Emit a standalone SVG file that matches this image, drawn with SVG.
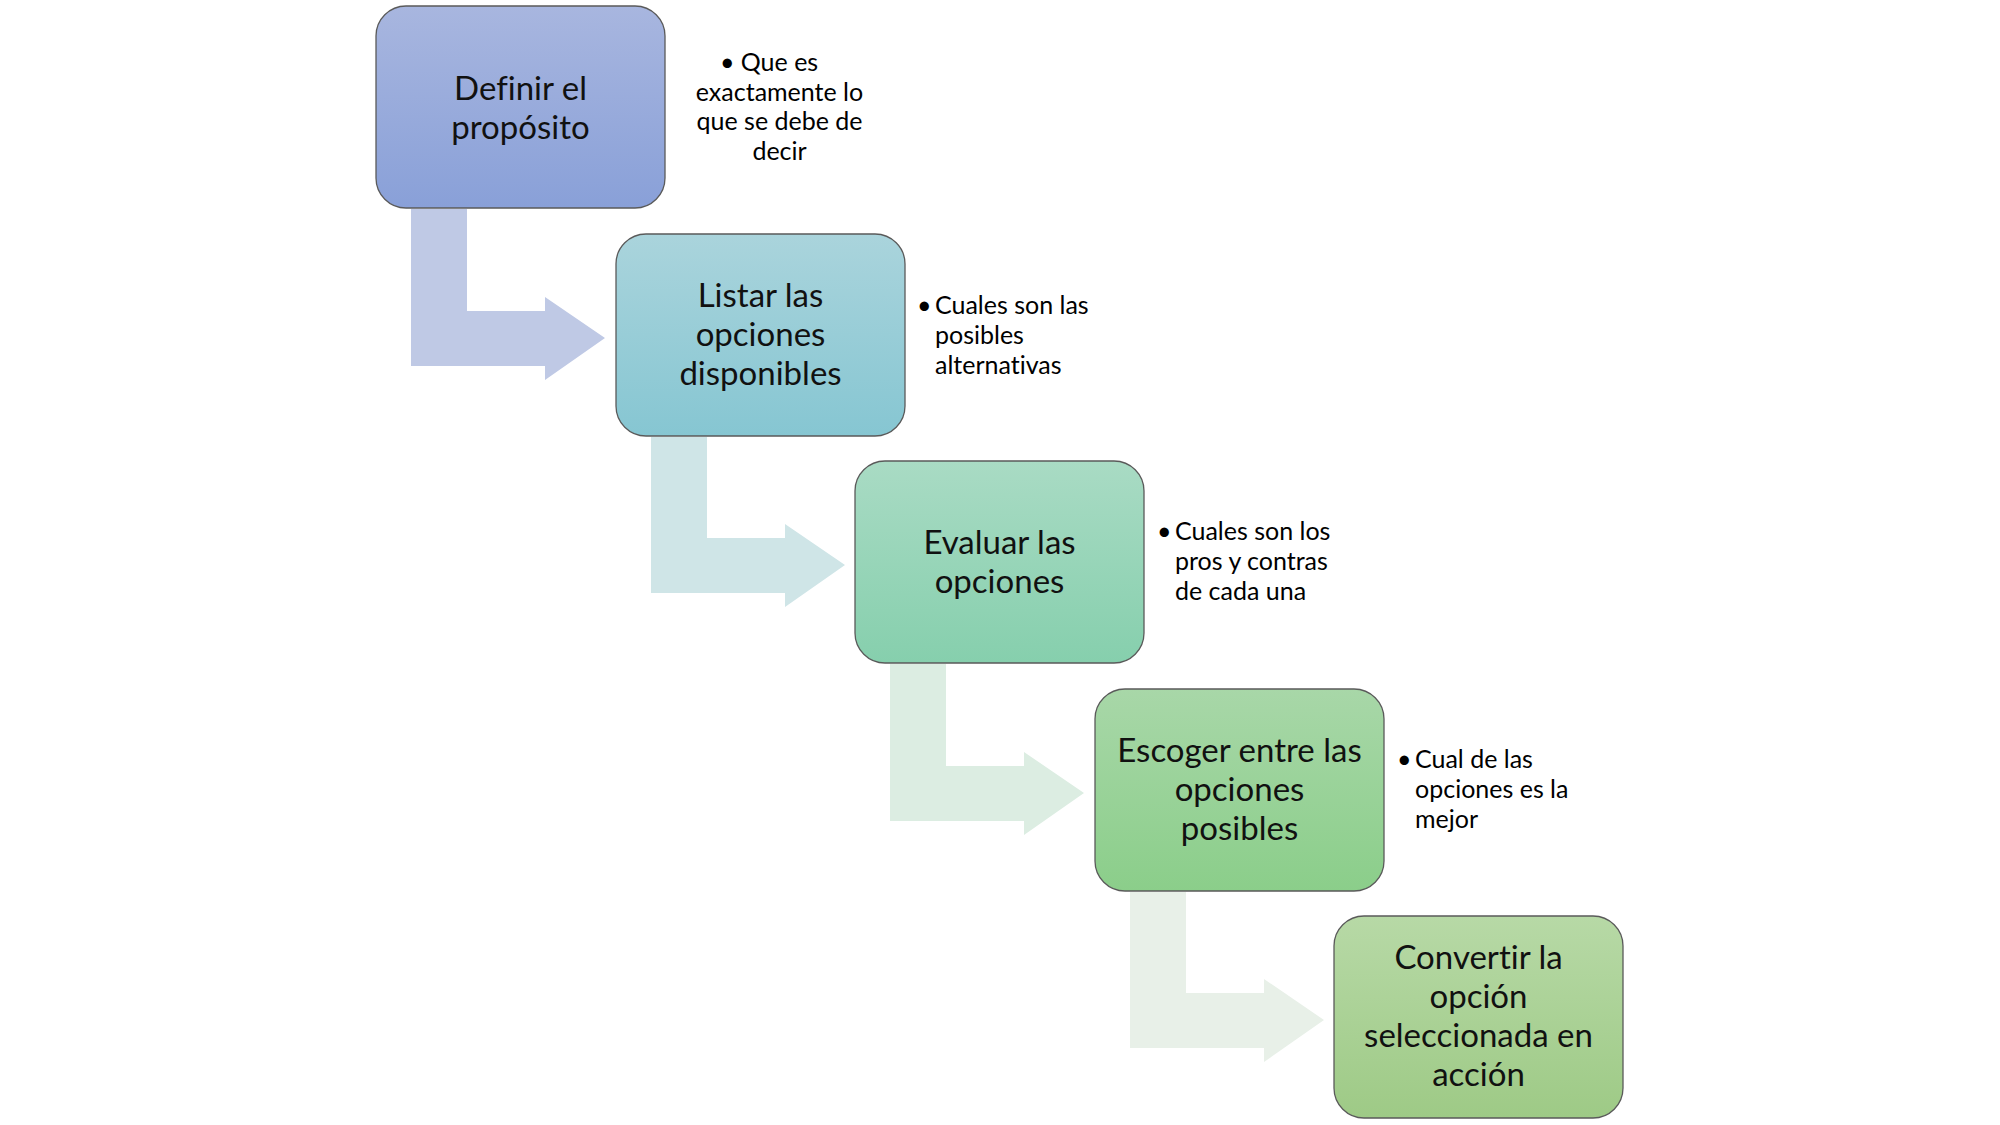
<svg xmlns="http://www.w3.org/2000/svg" width="2000" height="1125" viewBox="0 0 2000 1125">
<defs>
<linearGradient id="g1" x1="0" y1="0" x2="0" y2="1"><stop offset="0" stop-color="#A8B6DF"/><stop offset="1" stop-color="#89A0D8"/></linearGradient>
<linearGradient id="g2" x1="0" y1="0" x2="0" y2="1"><stop offset="0" stop-color="#AAD4DC"/><stop offset="1" stop-color="#86C6D2"/></linearGradient>
<linearGradient id="g3" x1="0" y1="0" x2="0" y2="1"><stop offset="0" stop-color="#A9DBC4"/><stop offset="1" stop-color="#86CFAD"/></linearGradient>
<linearGradient id="g4" x1="0" y1="0" x2="0" y2="1"><stop offset="0" stop-color="#A8D7A8"/><stop offset="1" stop-color="#8BCE8A"/></linearGradient>
<linearGradient id="g5" x1="0" y1="0" x2="0" y2="1"><stop offset="0" stop-color="#B7D9A6"/><stop offset="1" stop-color="#9ECA86"/></linearGradient>
</defs>
<style>
.box{stroke:#5A5A5A;stroke-width:1.3}
text{font-variant-ligatures:none;font-feature-settings:"liga" 0,"clig" 0}
.t{font-family:Lato,"Open Sans","Liberation Sans",sans-serif;font-size:33px;fill:#111;text-anchor:middle}
.s{font-family:Lato,"Open Sans","Liberation Sans",sans-serif;font-size:25px;fill:#000}
.c{text-anchor:middle}
</style>
<rect width="2000" height="1125" fill="#FFFFFF"/>
<g id="connectors">
<path d="M411 209 H467 V311 H545 V297 L605 338 L545 380 V366 H411 Z" fill="#BFC9E5"/>
<path d="M651 437 H707 V538 H785 V524 L845 565 L785 607 V593 H651 Z" fill="#CFE5E7"/>
<path d="M890 664 H946 V766 H1024 V752 L1084 793 L1024 835 V821 H890 Z" fill="#DCEDE2"/>
<path d="M1130 892 H1186 V993 H1264 V979 L1324 1020 L1264 1062 V1048 H1130 Z" fill="#E8F0E8"/>
</g>
<g id="node1">
<rect class="box" x="376" y="6" width="289" height="202" rx="30" fill="url(#g1)"/>
<text class="t" x="520.5" y="100">Definir el</text>
<text class="t" x="520.5" y="139">propósito</text>
</g>
<g id="note1">
<text class="s" x="720" y="71">•</text>
<text class="s c" x="779.5" y="71">Que es</text>
<text class="s c" x="779.5" y="101">exactamente lo</text>
<text class="s c" x="779.5" y="130">que se debe de</text>
<text class="s c" x="779.5" y="160">decir</text>
</g>
<g id="node2">
<rect class="box" x="616" y="234" width="289" height="202" rx="30" fill="url(#g2)"/>
<text class="t" x="760.5" y="307">Listar las</text>
<text class="t" x="760.5" y="346">opciones</text>
<text class="t" x="760.5" y="385">disponibles</text>
</g>
<g id="note2">
<text class="s" x="917" y="314">•</text>
<text class="s" x="935" y="314">Cuales son las</text>
<text class="s" x="935" y="344">posibles</text>
<text class="s" x="935" y="374">alternativas</text>
</g>
<g id="node3">
<rect class="box" x="855" y="461" width="289" height="202" rx="30" fill="url(#g3)"/>
<text class="t" x="999.5" y="554">Evaluar las</text>
<text class="t" x="999.5" y="593">opciones</text>
</g>
<g id="note3">
<text class="s" x="1157" y="540">•</text>
<text class="s" x="1175" y="540">Cuales son los</text>
<text class="s" x="1175" y="570">pros y contras</text>
<text class="s" x="1175" y="600">de cada una</text>
</g>
<g id="node4">
<rect class="box" x="1095" y="689" width="289" height="202" rx="30" fill="url(#g4)"/>
<text class="t" x="1239.5" y="762">Escoger entre las</text>
<text class="t" x="1239.5" y="801">opciones</text>
<text class="t" x="1239.5" y="840">posibles</text>
</g>
<g id="note4">
<text class="s" x="1397" y="768">•</text>
<text class="s" x="1415" y="768">Cual de las</text>
<text class="s" x="1415" y="798">opciones es la</text>
<text class="s" x="1415" y="828">mejor</text>
</g>
<g id="node5">
<rect class="box" x="1334" y="916" width="289" height="202" rx="30" fill="url(#g5)"/>
<text class="t" x="1478.5" y="969">Convertir la</text>
<text class="t" x="1478.5" y="1008">opción</text>
<text class="t" x="1478.5" y="1047">seleccionada en</text>
<text class="t" x="1478.5" y="1086">acción</text>
</g>
</svg>
